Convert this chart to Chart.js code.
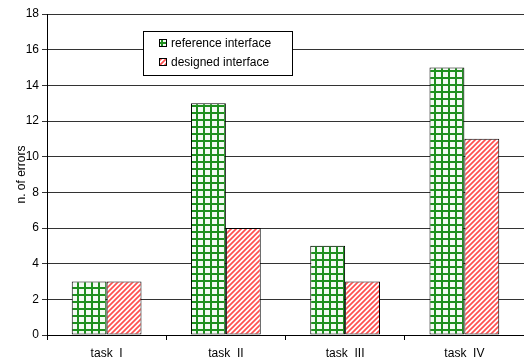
<!DOCTYPE html>
<html>
<head>
<meta charset="utf-8">
<script src="https://cdn.jsdelivr.net/npm/chart.js@4.4.1/dist/chart.umd.min.js"></script>
<style>
  html, body { margin: 0; padding: 0; background: #fff; }
  #wrap { width: 524px; height: 363px; }
</style>
</head>
<body>
<div id="wrap"><canvas id="c" width="524" height="363"></canvas></div>
<script>
const categories = ['task  I', 'task  II', 'task  III', 'task  IV'];
const referenceErrors = [3, 13, 5, 15];
const designedErrors = [3, 6, 3, 11];
const seriesNames = ['reference interface', 'designed interface'];
const yTicks = [0, 2, 4, 6, 8, 10, 12, 14, 16, 18];

const FONT = 'Liberation Sans, Arial, sans-serif';

// green checkered fill
function gridPattern() {
  const t = document.createElement('canvas');
  t.width = 7; t.height = 7;
  const g = t.getContext('2d');
  g.fillStyle = '#f4fbf4';
  g.fillRect(0, 0, 7, 7);
  g.fillStyle = '#1f901f';
  g.fillRect(0, 0, 2, 7);
  g.fillRect(0, 0, 7, 2);
  return g.createPattern(t, 'repeat');
}

// red diagonal hatch
function hatchPattern() {
  const s = 5;
  const t = document.createElement('canvas');
  t.width = s; t.height = s;
  const g = t.getContext('2d');
  g.fillStyle = '#ffffff';
  g.fillRect(0, 0, s, s);
  g.strokeStyle = '#ff5050';
  g.lineWidth = 1.7;
  g.beginPath();
  g.moveTo(-1, s + 1); g.lineTo(s + 1, -1);
  g.moveTo(-1, 1); g.lineTo(1, -1);
  g.moveTo(s - 1, s + 1); g.lineTo(s + 1, s - 1);
  g.stroke();
  return g.createPattern(t, 'repeat');
}

const fills = [gridPattern(), hatchPattern()];

// boxed legend inside the plot area
const boxLegend = {
  id: 'boxLegend',
  afterDraw(chart) {
    const ctx = chart.ctx;
    const x = 143, y = 31, w = 149, h = 44;
    ctx.save();
    ctx.fillStyle = '#fff';
    ctx.fillRect(x, y, w, h);
    ctx.strokeStyle = '#000';
    ctx.lineWidth = 1;
    ctx.strokeRect(x + 0.5, y + 0.5, w, h);
    ctx.font = '12px ' + FONT;
    ctx.textBaseline = 'middle';
    chart.data.datasets.forEach((ds, i) => {
      const cy = y + 12 + i * 19;
      const mx = 159;
      ctx.fillStyle = ds.backgroundColor;
      ctx.fillRect(mx, cy - 4, 8, 8);
      ctx.strokeStyle = '#000';
      ctx.strokeRect(mx + 0.5, cy - 3.5, 7, 7);
      ctx.fillStyle = '#000';
      ctx.fillText(ds.label, mx + 12, cy + 1);
    });
    ctx.restore();
  }
};

new Chart(document.getElementById('c'), {
  type: 'bar',
  data: {
    labels: categories,
    datasets: [
      { label: seriesNames[0], data: referenceErrors, backgroundColor: fills[0], borderColor: '#000', borderWidth: 1, borderSkipped: false },
      { label: seriesNames[1], data: designedErrors, backgroundColor: fills[1], borderColor: '#000', borderWidth: 1, borderSkipped: false }
    ]
  },
  options: {
    responsive: false,
    animation: false,
    devicePixelRatio: 1,
    layout: { padding: { top: 14, right: 0, left: 0, bottom: 0 } },
    datasets: { bar: { categoryPercentage: 0.585, barPercentage: 1.0 } },
    plugins: { legend: { display: false }, tooltip: { enabled: false } },
    scales: {
      x: {
        offset: true,
        grid: { offset: true, drawOnChartArea: false, color: '#000', tickLength: 5 },
        border: { color: '#000' },
        ticks: { color: '#000', font: { family: FONT, size: 12 }, padding: 6, maxRotation: 0 },
        afterFit(s) { s.height = 28; }
      },
      y: {
        min: 0, max: 18,
        afterBuildTicks(s) { s.ticks = yTicks.map(v => ({ value: v })); },
        grid: { color: '#333', tickLength: 5 },
        border: { color: '#000' },
        ticks: { color: '#000', font: { family: FONT, size: 12 }, padding: 3 },
        title: { display: true, text: 'n. of errors', color: '#000', font: { family: FONT, size: 12 }, padding: { top: 14, bottom: 0 } },
        afterFit(s) { s.width = 47; }
      }
    }
  },
  plugins: [boxLegend]
});
</script>
</body>
</html>
